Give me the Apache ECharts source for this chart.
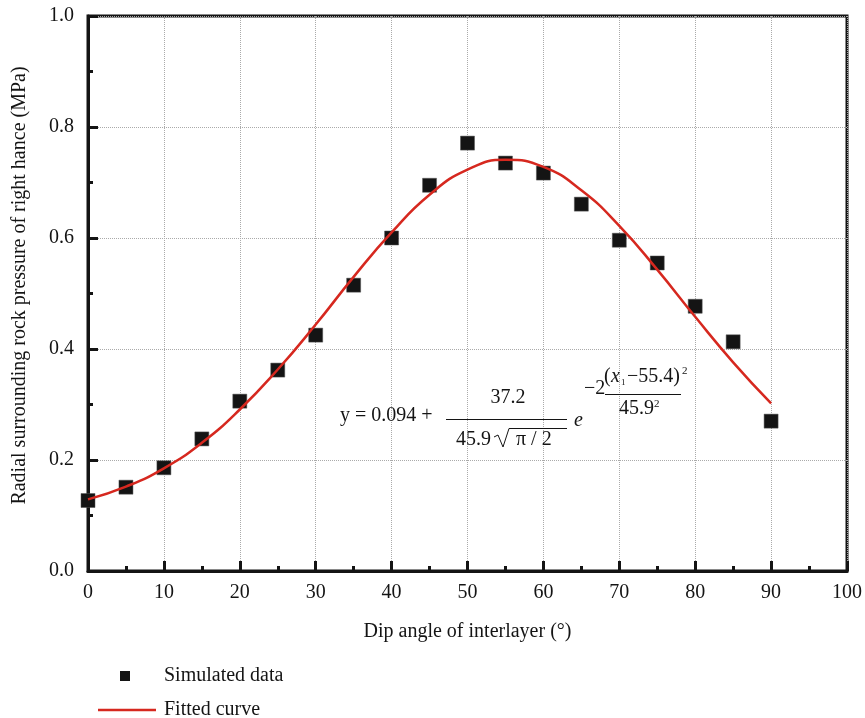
<!DOCTYPE html>
<html>
<head>
<meta charset="utf-8">
<script src="https://cdn.jsdelivr.net/npm/echarts@6/dist/echarts.min.js"></script>
<style>html,body{margin:0;padding:0;background:#fff}#c{width:865px;height:718px}</style>
</head>
<body>
<div id="c"></div>
<script>
// Simulated data
var simX = [0, 5, 10, 15, 20, 25, 30, 35, 40, 45, 50, 55, 60, 65, 70, 75, 80, 85, 90];
var simY = [0.127, 0.151, 0.186, 0.238, 0.306, 0.362, 0.425, 0.515, 0.600, 0.695, 0.771, 0.735, 0.717, 0.661, 0.596, 0.555, 0.477, 0.413, 0.270];
// Fitted curve
var fitX = [0, 5, 10, 15, 20, 25, 30, 35, 40, 45, 50, 55, 60, 65, 70, 75, 80, 85, 90];
var fitY = [0.129, 0.152, 0.185, 0.231, 0.291, 0.363, 0.444, 0.530, 0.610, 0.678, 0.723, 0.741, 0.728, 0.686, 0.622, 0.543, 0.458, 0.376, 0.302];
var xTicks = [0, 10, 20, 30, 40, 50, 60, 70, 80, 90, 100];
var yTicks = ['0.0', '0.2', '0.4', '0.6', '0.8', '1.0'];

var FONT = '"Liberation Serif", "DejaVu Serif", serif';
var FS = 20;
var INK = '#141414';
var RED = '#d6281f';

function pairs(xs, ys) { return xs.map(function (x, i) { return [x, ys[i]]; }); }

var chart = echarts.init(document.getElementById('c'));

function t(x, y, text, size, opts) {
  opts = opts || {};
  return {
    type: 'text', x: x, y: y, z: 50,
    style: {
      text: text, fill: INK,
      font: (opts.italic ? 'italic ' : '') + size + 'px ' + FONT,
      align: opts.align || 'left', verticalAlign: 'middle'
    }
  };
}
function ln(x1, y1, x2, y2) {
  return { type: 'line', z: 50, shape: { x1: x1, y1: y1, x2: x2, y2: y2 }, style: { stroke: INK, lineWidth: 1 } };
}

chart.setOption({
  animation: false,
  backgroundColor: '#fff',
  grid: { left: 88, right: 18, top: 16, bottom: 147, show: true, borderColor: INK, borderWidth: 3, backgroundColor: 'transparent' },
  xAxis: {
    type: 'value', min: 0, max: 100, interval: 10,
    name: 'Dip angle of interlayer (°)', nameLocation: 'middle', nameGap: 51,
    nameTextStyle: { fontFamily: FONT, fontSize: FS, color: INK },
    axisLine: { lineStyle: { color: INK, width: 3 } },
    axisTick: { inside: true, length: 10, lineStyle: { color: INK, width: 3 } },
    minorTick: { show: true, splitNumber: 2, length: 5, lineStyle: { color: INK, width: 3 } },
    axisLabel: { fontFamily: FONT, fontSize: FS, color: INK, margin: 12,
      formatter: function (v) { return xTicks.indexOf(v) >= 0 ? String(v) : ''; } },
    splitLine: { show: true, lineStyle: { color: '#aaaaaa', type: 'dotted', width: 1 } }
  },
  yAxis: {
    type: 'value', min: 0, max: 1, interval: 0.2,
    name: 'Radial surrounding rock pressure of right hance (MPa)', nameLocation: 'middle', nameGap: 58,
    nameTextStyle: { fontFamily: FONT, fontSize: FS, color: INK, padding: [0, 0, 0, 16] },
    axisLine: { lineStyle: { color: INK, width: 3 } },
    axisTick: { inside: true, length: 10, lineStyle: { color: INK, width: 3 } },
    minorTick: { show: true, splitNumber: 2, length: 5, lineStyle: { color: INK, width: 3 } },
    axisLabel: { fontFamily: FONT, fontSize: FS, color: INK, margin: 14,
      formatter: function (v) { return yTicks[Math.round(v / 0.2)]; } },
    splitLine: { show: true, lineStyle: { color: '#aaaaaa', type: 'dotted', width: 1 } }
  },
  legend: [
    { data: [{ name: 'Simulated data', icon: 'rect' }], orient: 'vertical', left: 115, top: 661, itemWidth: 10, itemHeight: 10,
      itemStyle: { color: INK, borderWidth: 0 },
      textStyle: { fontFamily: FONT, fontSize: FS, color: INK, padding: [0, 0, 4, 29] } },
    { data: [{ name: 'Fitted curve', icon: 'rect' }], orient: 'vertical', left: 93, top: 695, itemWidth: 58, itemHeight: 2.5,
      symbolKeepAspect: false,
      textStyle: { fontFamily: FONT, fontSize: FS, color: INK, padding: [0, 0, 8, 3] } }
  ],
  series: [
    { name: 'Simulated data', type: 'scatter', symbol: 'rect', symbolSize: 14, z: 2,
      itemStyle: { color: INK, opacity: 1, borderColor: '#555', borderWidth: 0.5 },
      data: pairs(simX, simY) },
    { name: 'Fitted curve', type: 'line', smooth: true, symbol: 'none', showSymbol: false, z: 3,
      lineStyle: { color: RED, width: 2.5 }, itemStyle: { color: RED },
      data: pairs(fitX, fitY) }
  ],
  graphic: [
    t(340, 416, 'y = 0.094 +', FS),
    ln(446, 419.5, 567, 419.5),
    t(508, 398, '37.2', FS, { align: 'center' }),
    t(456, 440, '45.9', FS),
    { type: 'polyline', z: 50, shape: { points: [[494, 437], [498, 435], [503, 447], [509, 428.5], [567, 428.5]] },
      style: { stroke: INK, lineWidth: 1, fill: null } },
    t(516, 440, 'π / 2', FS),
    t(574, 421, 'e', FS, { italic: true }),
    t(584, 389, '−2', FS),
    t(604, 377, '(', FS),
    t(611, 377, 'x', FS, { italic: true }),
    t(621, 383, '1', 9),
    t(627, 377, '−55.4)', FS),
    t(682, 371, '2', 11),
    ln(605, 394.5, 681, 394.5),
    t(619, 409, '45.9', FS),
    t(654, 404, '2', 11)
  ]
});
</script>
</body>
</html>
